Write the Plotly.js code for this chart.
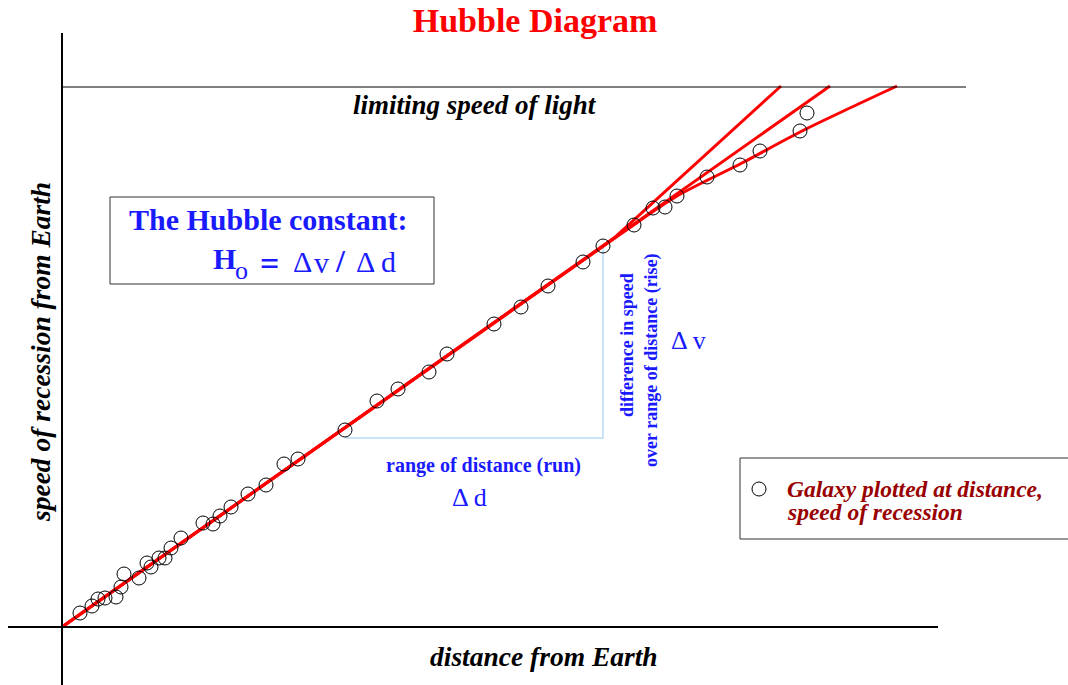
<!DOCTYPE html>
<html><head><meta charset="utf-8">
<script src="https://cdn.plot.ly/plotly-3.0.1.min.js"></script>
<style>html,body{margin:0;padding:0;background:#fff}#chart{width:1068px;height:685px}</style>
</head><body><div id="chart"></div>
<script>
// Galaxy data (arbitrary units; distance vs recession speed)
const galaxyDistance = [18,30,36,43,54,59,62,77,85,89,97,103,109,119,141,151,158,169,186,204,222,236,283,315,336,367,385,432,459,486,521,541,572,591,603,615,645,678,698,738,745];
const galaxySpeed    = [14,21,28,29,30,40,53,49,64,60,69,69,79,89,104,103,111,120,133,142,163,168,197,226,238,255,273,303,320,341,365,381,402,419,420,431,450,462,476,496,514];
// Model curves
const linearDist = [0, 768];
const linearSpeed = [0, 541];
const steepDist = [0, 552, 719];
const steepSpeed = [0, 389, 541];
const curvedDist = [0, 560, 615, 680, 740, 835];
const curvedSpeed = [0, 394, 431, 464, 496, 541];
const speedOfLight = 540;
// run/rise triangle
const runDist = [283, 541];
const riseSpeed = [189, 381];
const legendPoint = {x:[697], y:[138]};

const X = px => px - 62, Y = py => 627 - py;
const serif = "Liberation Serif, Times New Roman, serif";
const blue = "#1a1aff";

const traces = [
  {x: runDist.concat([runDist[1]]), y: [riseSpeed[0], riseSpeed[0], riseSpeed[1]], mode:'lines', line:{color:'#b8dcf5', width:1.5}, hoverinfo:'skip'},
  {x: steepDist, y: steepSpeed, mode:'lines', line:{color:'#ff0000', width:3}},
  {x: linearDist, y: linearSpeed, mode:'lines', line:{color:'#ff0000', width:3}},
  {x: curvedDist, y: curvedSpeed, mode:'lines', line:{color:'#ff0000', width:3, shape:'spline', smoothing:0.8}},
  {x: galaxyDistance, y: galaxySpeed, mode:'markers', marker:{symbol:'circle-open', size:14, color:'#000', line:{width:1, color:'#000'}}},
  {x: legendPoint.x, y: legendPoint.y, mode:'markers', marker:{symbol:'circle-open', size:14, color:'#000', line:{width:1, color:'#000'}}}
];

const shapes = [
  {type:'line', x0:0, x1:0, y0:Y(685), y1:Y(33), line:{color:'#000', width:2}},
  {type:'line', x0:X(8), x1:X(938), y0:0, y1:0, line:{color:'#000', width:2}},
  {type:'line', x0:0, x1:X(966), y0:speedOfLight, y1:speedOfLight, line:{color:'#000', width:1}},
  {type:'rect', x0:X(110), x1:X(434), y0:Y(197), y1:Y(284), line:{color:'#333', width:1}},
  {type:'rect', x0:X(740), x1:X(1080), y0:Y(458), y1:Y(539), line:{color:'#333', width:1}}
];

const ann = (px, py, text, size, color, opts={}) => Object.assign({
  x: X(px), y: Y(py), xref:'x', yref:'y', text, showarrow:false,
  font:{family:serif, size, color}, xanchor:'center', yanchor:'middle'
}, opts);

const annotations = [
  ann(475, 105, '<b><i>limiting speed of light</i></b>', 27, '#000'),
  ann(268, 219, '<b>The Hubble constant:</b>', 30, blue),
  ann(224, 258, '<b>H</b>', 30, blue),
  ann(241, 270, 'o', 26, blue),
  ann(269, 263, '<b>=</b>', 34, blue),
  ann(302, 261, 'Δ', 30, blue),
  ann(321, 262, 'v', 30, blue),
  ann(340, 261, '<b>/</b>', 32, blue),
  ann(365, 261, 'Δ', 30, blue),
  ann(388, 261, 'd', 30, blue),
  ann(483, 465, '<b>range of distance (run)</b>', 20, blue),
  ann(469, 497, 'Δ d', 26, blue),
  ann(627, 345, '<b>difference in speed</b>', 18, blue, {textangle:-90}),
  ann(651, 360, '<b>over range of distance (rise)</b>', 18, blue, {textangle:-90}),
  ann(688, 340, 'Δ v', 26, blue),
  ann(785, 489, '<b><i>Galaxy plotted at distance,</i></b>', 23.5, '#990000', {xanchor:'left'}),
  ann(785, 512, '<b><i>speed of recession</i></b>', 23.5, '#990000', {xanchor:'left'}),
  ann(40, 352, '<b><i>speed of recession from Earth</i></b>', 27.5, '#000', {textangle:-90}),
  ann(544, 656, '<b><i>distance from Earth</i></b>', 27.5, '#000')
];

const layout = {
  width:1068, height:685, margin:{l:0,r:0,t:0,b:0},
  paper_bgcolor:'#fff', plot_bgcolor:'#fff', showlegend:false,
  title:{text:'<b>Hubble Diagram</b>', x:0.501, xref:'paper', y:1-20/685, yref:'paper', yanchor:'middle', font:{family:serif, size:34, color:'#ff0000'}},
  xaxis:{range:[X(0), X(1068)], visible:false, fixedrange:true},
  yaxis:{range:[Y(685), Y(0)], visible:false, fixedrange:true},
  shapes, annotations
};
Plotly.newPlot('chart', traces, layout, {staticPlot:true, displayModeBar:false});
</script></body></html>
